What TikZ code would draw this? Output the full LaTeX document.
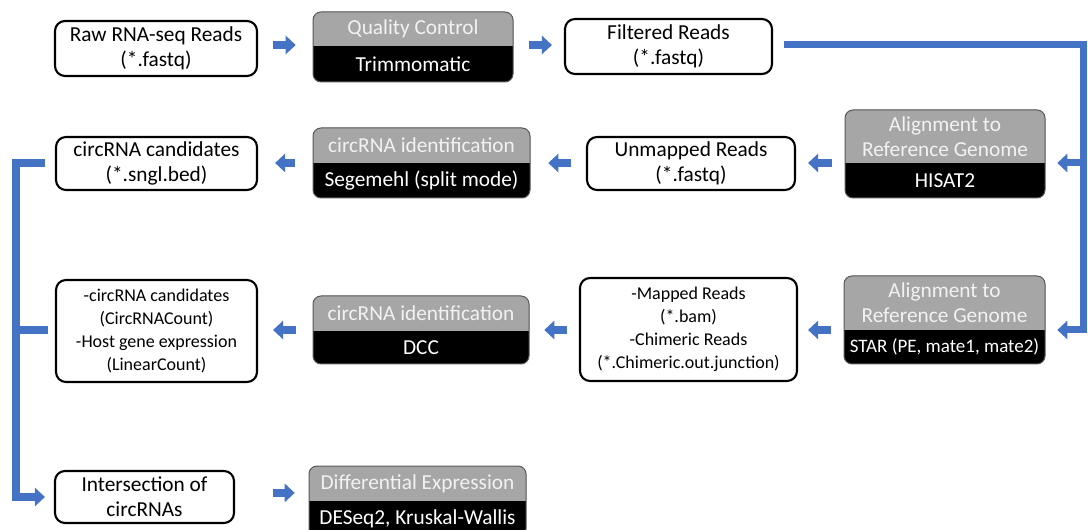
\documentclass[tikz,border=0pt]{standalone}
\usepackage{fontspec}
\setmainfont{Carlito}
\usetikzlibrary{arrows.meta,fit,calc}

\definecolor{flowblue}{HTML}{4472C4}
\definecolor{headgray}{HTML}{A6A6A6}
\definecolor{headtext}{HTML}{F2F2F2}
\definecolor{edgegray}{HTML}{595959}

\newcommand\bigtext{\fontsize{16pt}{18.75pt}\selectfont}
\newcommand\smalltext{\fontsize{13.5pt}{17.25pt}\selectfont}

\tikzset{
  wbox/.style={draw=black, line width=1.6pt, rounded corners=7.5pt, fill=white,
    align=center, inner sep=0pt, font=\bigtext},
  sbox/.style={fill=black, draw=none, inner sep=0pt, rounded corners=6pt},
  headlbl/.style={text=headtext, align=center, inner sep=0pt, font=\bigtext},
  toollbl/.style={text=white, align=center, inner sep=0pt, font=\bigtext},
  bline/.style={draw=flowblue, line width=6pt},
  barrow/.style={draw=flowblue, line width=6pt,
    -{Triangle[length=7.5pt,width=13.5pt]}},
}

% tool box: name, x1, y1, x2, y split, y2, heading, tool
\newcommand\splitbox[8]{%
  \node[sbox, fit={(#2,#3) (#4,#6)}] (#1) {};
  \begin{scope}
    \clip[rounded corners=6pt] (#2,#3) rectangle (#4,#6);
    \fill[headgray] (#2,#3) rectangle (#4,#5);
  \end{scope}
  \draw[edgegray, line width=0.75pt, rounded corners=6pt] (#2,#3) rectangle (#4,#6);
  \node[headlbl] (#1-head) at ($(#2,#3)!0.5!(#4,#5)$) {#7};
  \node[toollbl] (#1-tool) at ($(#2,#5)!0.5!(#4,#6)$) {#8};
}

\begin{document}
\begin{tikzpicture}[x=0.75pt, y=-0.75pt]
\useasboundingbox (0,0) rectangle (1088,530);
\fill[white] (0,0) rectangle (1088,530);
\clip (0,0) rectangle (1088,530);

% row levels of the connectors
\coordinate (r1) at (0,45);
\coordinate (r2) at (0,163);
\coordinate (r3) at (0,330);
\coordinate (rv) at (1083,330);
\coordinate (lv) at (16,330);

% data boxes
\node[wbox, minimum width=151.5pt, minimum height=41.25pt] (raw) at (156,48.5)
  {Raw RNA-seq Reads\\(*.fastq)};
\node[wbox, minimum width=155.25pt, minimum height=41.25pt] (filt) at (668.5,46.5)
  {Filtered Reads\\(*.fastq)};
\node[wbox, minimum width=156pt, minimum height=39.75pt] (unmap) at (691,163.5)
  {Unmapped Reads\\(*.fastq)};
\node[wbox, minimum width=150.75pt, minimum height=39.75pt] (cand) at (156.5,163.5)
  {circRNA candidates\\(*.sngl.bed)};
\node[wbox, font=\smalltext, minimum width=162.75pt, minimum height=77.25pt] (mapped) at (688.5,329.5)
  {-Mapped Reads\\(*.bam)\\-Chimeric Reads\\(*.Chimeric.out.junction)};
\node[wbox, font=\smalltext, minimum width=150.75pt, minimum height=76.5pt] (count) at (156.5,331)
  {-circRNA candidates\\(CircRNACount)\\-Host gene expression\\(LinearCount)};
\node[wbox, minimum width=134.25pt, minimum height=39pt] (inter) at (144.5,497)
  {Intersection of\\circRNAs};

% tool boxes
\splitbox{qc}{313}{12}{513}{46}{82}{Quality Control}{Trimmomatic}
\splitbox{hisat}{845}{110}{1045}{163}{198}{Alignment to\\Reference Genome}{HISAT2}
\splitbox{seg}{313}{128}{530}{163}{198}{circRNA identification}{Segemehl (split mode)}
\splitbox{star}{844}{276}{1045}{330}{364}{Alignment to\\Reference Genome}{\fontsize{14.25pt}{17pt}\selectfont STAR (PE, mate1, mate2)}
\splitbox{dcc}{313}{296}{529}{331}{364}{circRNA identification}{DCC}
\splitbox{dexp}{309}{466}{526}{501}{537}{Differential Expression}{DESeq2, Kruskal-Wallis}

% first row
\draw[barrow, shorten <=11.25pt, shorten >=12.75pt] (raw.east |- r1) -- (qc.west |- r1);
\draw[barrow, shorten <=12pt, shorten >=9pt] (qc.east |- r1) -- (filt.west |- r1);

% long connector down the right side
\draw[barrow, line width=5.25pt, shorten <=8.25pt, shorten >=9pt]
  (filt.east |- r1) -| (rv) -- (star.east |- rv);
\draw[barrow, line width=5.25pt, shorten >=9pt] (rv |- r2) -- (hisat.east |- r2);

% second row
\draw[barrow, shorten <=9.75pt, shorten >=9pt] (hisat.west |- r2) -- (unmap.east |- r2);
\draw[barrow, shorten <=11.25pt, shorten >=13.5pt] (unmap.west |- r2) -- (seg.east |- r2);
\draw[barrow, shorten <=13.5pt, shorten >=12.75pt] (seg.west |- r2) -- (cand.east |- r2);

% third row
\draw[barrow, shorten <=9.75pt, shorten >=7.5pt] (star.west |- r3) -- (mapped.east |- r3);
\draw[barrow, shorten <=9pt, shorten >=11.25pt] (mapped.west |- r3) -- (dcc.east |- r3);
\draw[barrow, shorten <=12.75pt, shorten >=11.25pt] (dcc.west |- r3) -- (count.east |- r3);

% results gathered on the left
\draw[barrow, shorten <=7.5pt, shorten >=6.75pt] (cand.west |- r2) -| (lv) |- (inter.west);
\draw[bline, shorten <=5.25pt] (count.west |- r3) -- (lv);

% last step
\draw[barrow, shorten <=28.5pt, shorten >=10.5pt] (inter.east |- dexp-head.south) -- (dexp.west |- dexp-head.south);
\end{tikzpicture}
\end{document}
